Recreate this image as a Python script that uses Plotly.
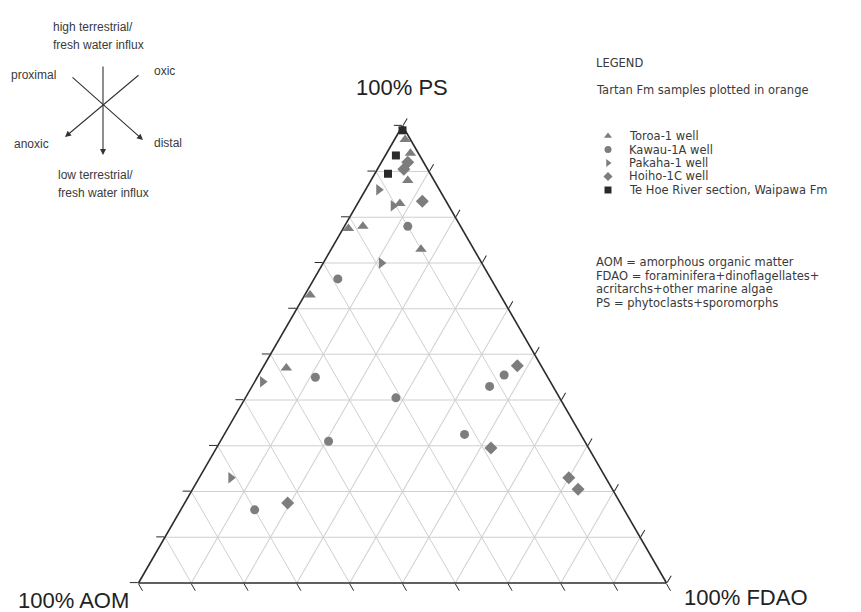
import plotly.graph_objects as go

# Composition of each sample as fractions: PS (top), AOM (left), FDAO (right)
toroa_ps = [0.97, 0.94, 0.88, 0.83, 0.775, 0.78, 0.73, 0.63, 0.47]
toroa_aom = [0.01, 0.015, 0.05, 0.09, 0.215, 0.185, 0.10, 0.36, 0.485]
toroa_fdao = [0.02, 0.045, 0.07, 0.08, 0.01, 0.035, 0.17, 0.01, 0.045]

kawau_ps = [0.78, 0.665, 0.45, 0.405, 0.31, 0.455, 0.43, 0.325, 0.16]
kawau_aom = [0.10, 0.29, 0.44, 0.31, 0.485, 0.08, 0.12, 0.22, 0.70]
kawau_fdao = [0.12, 0.045, 0.11, 0.285, 0.205, 0.465, 0.45, 0.455, 0.14]

pakaha_ps = [0.86, 0.825, 0.70, 0.44, 0.23]
pakaha_aom = [0.115, 0.105, 0.19, 0.545, 0.71]
pakaha_fdao = [0.025, 0.07, 0.11, 0.015, 0.06]

hoiho_ps = [0.92, 0.905, 0.835, 0.475, 0.295, 0.23, 0.205, 0.175]
hoiho_aom = [0.03, 0.045, 0.045, 0.045, 0.185, 0.07, 0.065, 0.63]
hoiho_fdao = [0.05, 0.05, 0.12, 0.48, 0.52, 0.70, 0.73, 0.195]

tehoe_ps = [0.99, 0.935, 0.895]
tehoe_aom = [0.005, 0.045, 0.08]
tehoe_fdao = [0.005, 0.02, 0.025]

series_names = ["Toroa-1 well", "Kawau-1A well", "Pakaha-1 well",
                "Hoiho-1C well", "Te Hoe River section, Waipawa Fm"]
series_symbols = ["triangle-up", "circle", "triangle-right", "diamond", "square"]
series_sizes = [10, 9, 10, 10, 8]
series_colors = ["#7d7d7d", "#7d7d7d", "#7d7d7d", "#7d7d7d", "#2a2a2a"]
series_data = [
    (toroa_ps, toroa_aom, toroa_fdao),
    (kawau_ps, kawau_aom, kawau_fdao),
    (pakaha_ps, pakaha_aom, pakaha_fdao),
    (hoiho_ps, hoiho_aom, hoiho_fdao),
    (tehoe_ps, tehoe_aom, tehoe_fdao),
]

notes = ["AOM = amorphous organic matter",
         "FDAO = foraminifera+dinoflagellates+",
         "acritarchs+other marine algae",
         "PS = phytoclasts+sporomorphs"]

INK = "#2b2b2b"
TEXT = "#3a3a3a"
W, H = 861, 612
FONT = "Liberation Sans, Arial, sans-serif"
LEGEND_FONT = "DejaVu Sans, sans-serif"

fig = go.Figure()

# Sample points
for name, sym, sz, col, (ps, aom, fdao) in zip(series_names, series_symbols,
                                               series_sizes, series_colors,
                                               series_data):
    fig.add_trace(go.Scatterternary(
        a=ps, b=aom, c=fdao, name=name, mode="markers",
        showlegend=False, cliponaxis=False,
        marker=dict(symbol=sym, size=sz, color=col, line=dict(width=0)),
    ))

# Legend keys on a hidden pixel-scaled cartesian overlay
legend_sym_x, legend_txt_x, head_x = 608, 628, 595
legend_y0, legend_dy = 136, 13.5
for i, (sym, col) in enumerate(zip(series_symbols, series_colors)):
    fig.add_trace(go.Scatter(
        x=[legend_sym_x], y=[legend_y0 + i * legend_dy], mode="markers",
        showlegend=False, hoverinfo="skip",
        marker=dict(symbol=sym, size=7, color=col),
        xaxis="x", yaxis="y",
    ))

axis_common = dict(
    min=0, dtick=0.1, tick0=0, showgrid=True, gridcolor="#cfcfcf",
    gridwidth=1, showline=True, linecolor=INK, linewidth=1.6,
    ticks="outside", ticklen=8, tickwidth=1.4, tickcolor=INK,
    showticklabels=False, title=dict(text=""),
)

tri_w = 528
tri_h = tri_w * 3 ** 0.5 / 2
cx, base_y = 402.5, 583
top_y = base_y - tri_h

annotations = []


def txt(x, y, s, size=12, anchor="left", color=TEXT, family=FONT):
    annotations.append(dict(
        x=x / W, y=1 - y / H, xref="paper", yref="paper", text=s,
        showarrow=False, xanchor=anchor, yanchor="middle", borderpad=0,
        font=dict(family=family, size=size, color=color),
    ))


def arrow(x0, y0, x1, y1):
    annotations.append(dict(
        x=x1 / W, y=1 - y1 / H, xref="paper", yref="paper", text="",
        showarrow=True, ax=x0 - x1, ay=y0 - y1, axref="pixel", ayref="pixel",
        arrowhead=2, arrowsize=1.1, arrowwidth=1.1, arrowcolor="#333333",
        standoff=0, startstandoff=0,
    ))


# Vertex labels
txt(402, 88, "100% PS", size=22, anchor="center", color="#222222")
txt(17, 600, "100% AOM", size=22, color="#222222")
txt(683, 597, "100% FDAO", size=22, color="#222222")

# Environment direction key
txt(52, 27, "high terrestrial/", size=12)
txt(52, 45, "fresh water influx", size=12)
txt(10, 75, "proximal", size=12)
txt(153, 71, "oxic", size=12)
txt(13, 144, "anoxic", size=12)
txt(153, 143, "distal", size=12)
txt(57, 175, "low terrestrial/", size=12)
txt(57, 193, "fresh water influx", size=12)
arrow(103, 65, 103, 155)
arrow(71, 76, 143, 140)
arrow(140, 74, 65, 137)

# Legend text
LS = 11.5
txt(head_x, 63, "LEGEND", size=LS, family=LEGEND_FONT)
txt(head_x, 90, "Tartan Fm samples plotted in orange", size=LS,
    family=LEGEND_FONT)
for i, name in enumerate(series_names):
    txt(legend_txt_x, legend_y0 + i * legend_dy, name, size=LS,
        family=LEGEND_FONT)
for i, line in enumerate(notes):
    txt(head_x, 262 + i * 13.5, line, size=LS, family=LEGEND_FONT)

fig.update_layout(
    width=W, height=H,
    margin=dict(l=0, r=0, t=0, b=0),
    paper_bgcolor="white", plot_bgcolor="rgba(0,0,0,0)",
    showlegend=False,
    ternary=dict(
        sum=1, bgcolor="white",
        domain=dict(
            x=[(cx - tri_w / 2) / W, (cx + tri_w / 2) / W],
            y=[1 - base_y / H, 1 - top_y / H],
        ),
        aaxis=axis_common, baxis=axis_common, caxis=axis_common,
    ),
    xaxis=dict(range=[0, W], domain=[0, 1], visible=False, fixedrange=True),
    yaxis=dict(range=[H, 0], domain=[0, 1], visible=False, fixedrange=True),
    annotations=annotations,
)

fig.write_html("out.html")
